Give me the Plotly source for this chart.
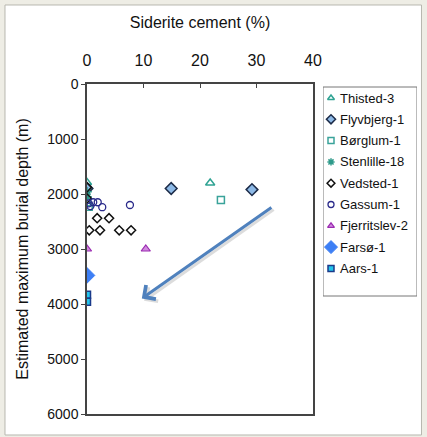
import plotly.graph_objects as go

# ---- data ----
wells = ["Thisted-3", "Flyvbjerg-1", "Børglum-1", "Stenlille-18", "Vedsted-1",
         "Gassum-1", "Fjerritslev-2", "Farsø-1", "Aars-1"]

thisted_x = [0, 21.8]
thisted_y = [1790, 1800]
flyv_x = [0, 14.9, 29.2]
flyv_y = [1900, 1900, 1920]
borg_x = [23.7, 0, 0.3]
borg_y = [2110, 2150, 2230]
sten_x = [0, 0]
sten_y = [1960, 2050]
ved_x = [0, 0, 1.8, 3.9, 0.4, 2.3, 5.7, 7.8]
ved_y = [1880, 2080, 2440, 2440, 2660, 2660, 2660, 2660]
gas_x = [1.1, 1.9, 2.7, 7.6, 0.3, 0.6]
gas_y = [2150, 2150, 2240, 2200, 2170, 2220]
fjer_x = [0, 10.4]
fjer_y = [3000, 3000]
fars_x = [0]
fars_y = [3480]
aars_x = [0, 0]
aars_y = [3830, 3960]

x_ticks = [0, 10, 20, 30, 40]
y_ticks = [0, 1000, 2000, 3000, 4000, 5000, 6000]

arrow_tail = (32.9, 2225)
arrow_head = (9.7, 3900)

# ---- styles ----
styles = [
    dict(symbol="triangle-up-open", size=8, color="#2fa393", line=dict(color="#2fa393", width=1.5)),
    dict(symbol="diamond", size=9, color="#8db9e6", line=dict(color="#1c2b48", width=1.5)),
    dict(symbol="square-open", size=7, color="#3aa39a", line=dict(color="#3aa39a", width=1.5)),
    dict(symbol="asterisk-open", size=8, color="#2e9a8a", line=dict(color="#2e9a8a", width=1.5)),
    dict(symbol="diamond-open", size=7, color="#111111", line=dict(color="#111111", width=1.5)),
    dict(symbol="circle-open", size=7, color="#2a2a8a", line=dict(color="#2a2a8a", width=1.3)),
    dict(symbol="triangle-up", size=8, color="#d28ae0", line=dict(color="#9a2ab0", width=1.2)),
    dict(symbol="diamond", size=12, color="#3d7ff5", line=dict(color="#3d7ff5", width=1)),
    dict(symbol="square", size=7, color="#22c4ec", line=dict(color="#1a3a8a", width=1.5)),
]
series = [(thisted_x, thisted_y), (flyv_x, flyv_y), (borg_x, borg_y), (sten_x, sten_y),
          (ved_x, ved_y), (gas_x, gas_y), (fjer_x, fjer_y), (fars_x, fars_y), (aars_x, aars_y)]

FONT = "Liberation Sans, Arial, sans-serif"
fig = go.Figure()
for name, (xs, ys), st in zip(wells, series, styles):
    fig.add_trace(go.Scatter(x=xs, y=ys, mode="markers", name=name, showlegend=False,
                             marker=st, xaxis="x", yaxis="y"))

# manual legend on overlay axis
step = 21.3
for i, (name, st) in enumerate(zip(wells, styles)):
    small = dict(st)
    small["size"] = max(6, st["size"] - 2)
    fig.add_trace(go.Scatter(x=[8], y=[14 + i * step], mode="markers", marker=small,
                             showlegend=False, xaxis="x2", yaxis="y2", hoverinfo="skip"))
    fig.add_annotation(x=15, y=14 + i * step, xref="x2", yref="y2", text=name,
                       showarrow=False, xanchor="left", yanchor="middle",
                       font=dict(family=FONT, size=13, color="#111"))

fig.add_shape(type="rect", xref="x2", yref="y2", x0=0, x1=94, y0=3, y1=212,
              line=dict(color="#777", width=1), fillcolor="rgba(0,0,0,0)")

# white panel with frame
fig.add_shape(type="rect", xref="paper", yref="paper", x0=-0.2448, x1=0.9985,
              y0=-0.0636, y1=1.2394, line=dict(color="#b8b8b0", width=1),
              fillcolor="white", layer="below")

# arrow shadow + arrow
fig.add_annotation(x=arrow_head[0] + 0.4, y=arrow_head[1] + 40, ax=arrow_tail[0] + 0.4,
                   ay=arrow_tail[1] + 40, xref="x", yref="y", axref="x", ayref="y",
                   showarrow=True, arrowhead=4, arrowsize=1.1, arrowwidth=3,
                   arrowcolor="rgba(120,120,120,0.25)", text="")
fig.add_annotation(x=arrow_head[0], y=arrow_head[1], ax=arrow_tail[0], ay=arrow_tail[1],
                   xref="x", yref="y", axref="x", ayref="y", showarrow=True,
                   arrowhead=4, arrowsize=1.1, arrowwidth=3, arrowcolor="#4f81bd", text="")

fig.update_layout(
    width=427, height=437,
    margin=dict(l=87, r=5, t=84, b=23, autoexpand=False),
    paper_bgcolor="#eeede5", plot_bgcolor="white",
    font=dict(family=FONT, color="#111"),
    xaxis=dict(domain=[0, 226 / 335], range=[0, 40], side="top", tickvals=x_ticks,
               ticks="inside", ticklen=4, tickcolor="#444", showline=True, mirror=True,
               linecolor="#444", linewidth=1.5, showgrid=False, zeroline=False,
               tickfont=dict(size=16), ticklabelstandoff=10, automargin=False,
               title=dict(text="Siderite cement (%)", font=dict(size=16), standoff=19)),
    yaxis=dict(range=[6000, 0], tickvals=y_ticks, ticks="outside", ticklen=4,
               tickcolor="#444", showline=True, mirror=True, linecolor="#444",
               linewidth=1.5, showgrid=False, zeroline=False, tickfont=dict(size=14),
               automargin=False,
               title=dict(text="Estimated maximum burial depth (m)", font=dict(size=16),
                          standoff=15)),
    xaxis2=dict(domain=[(323 - 87) / 335, (323 - 87 + 94) / 335], range=[0, 94],
                visible=False, anchor="y2"),
    yaxis2=dict(domain=[0, 1], range=[330, 0], visible=False, anchor="x2"),
)

fig.write_html("out.html", config={"displayModeBar": False},
               post_script="document.body.style.margin='0';document.body.style.overflow='hidden';")
